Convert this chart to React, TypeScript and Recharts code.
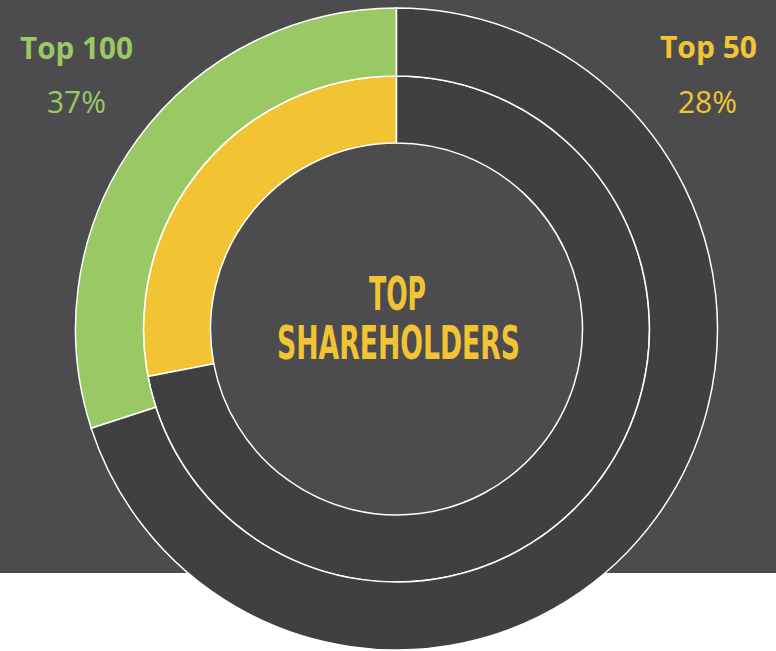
import { Cell, Pie, PieChart } from 'recharts';

// inner ring = Top 50, outer ring = Top 100
const sliceNames = ['Share', 'Rest'];
const top50Values = [28, 72];
const top100Values = [30, 70]; // drawn arc reads ~30% in the picture
const top50Colors = ['#F2C434', '#404040'];
const top100Colors = ['#9AC865', '#404040'];

const cornerTitles = ['Top 100', 'Top 50'];
const cornerValues = ['37%', '28%'];
const centerLines = ['TOP', 'SHAREHOLDERS'];

const toRows = (values: number[]) => values.map((value, i) => ({ name: sliceNames[i], value }));

const W = 776;
const H = 651;

const App = () => {
  return (
    <div style={{ position: 'absolute', left: 0, top: 0, width: W, height: H, background: '#fff' }}>
      <div style={{ position: 'absolute', left: 0, top: 0, width: W, height: 573, background: '#4C4C4E' }} />
      <div style={{ position: 'absolute', left: 0, top: 0 }}>
        <PieChart width={W} height={H} margin={{ top: 0, right: 0, bottom: 0, left: 0 }}>
          <Pie
            data={toRows(top50Values)}
            dataKey="value"
            cx={396.5}
            cy={329}
            innerRadius={186}
            outerRadius={253}
            startAngle={90}
            endAngle={450}
            stroke="#fff"
            strokeWidth={1.5}
            isAnimationActive={false}
          >
            {top50Values.map((_, i) => (
              <Cell key={i} fill={top50Colors[i]} />
            ))}
          </Pie>
          <Pie
            data={toRows(top100Values)}
            dataKey="value"
            cx={396.5}
            cy={329}
            innerRadius={253}
            outerRadius={321}
            startAngle={90}
            endAngle={450}
            stroke="#fff"
            strokeWidth={1.5}
            isAnimationActive={false}
          >
            {top100Values.map((_, i) => (
              <Cell key={i} fill={top100Colors[i]} />
            ))}
          </Pie>
        </PieChart>
      </div>
      <svg width={W} height={H} style={{ position: 'absolute', left: 0, top: 0, pointerEvents: 'none' }}>
        <g fontFamily="'Open Sans', 'DejaVu Sans', sans-serif" fontSize={31}>
          <text x={20} y={59} fill="#9AC865" fontWeight="bold" textLength={113} lengthAdjust="spacingAndGlyphs">
            {cornerTitles[0]}
          </text>
          <text x={47} y={113} fill="#9AC865" textLength={59} lengthAdjust="spacingAndGlyphs">
            {cornerValues[0]}
          </text>
          <text x={660} y={58} fill="#F2C434" fontWeight="bold" textLength={97} lengthAdjust="spacingAndGlyphs">
            {cornerTitles[1]}
          </text>
          <text x={678} y={113} fill="#F2C434" textLength={59} lengthAdjust="spacingAndGlyphs">
            {cornerValues[1]}
          </text>
        </g>
        <g fontFamily="'Liberation Sans Narrow', 'DejaVu Sans Condensed', sans-serif" fontWeight="bold" fontSize={47} fill="#F2C434">
          <text x={369} y={310} textLength={57} lengthAdjust="spacingAndGlyphs">
            {centerLines[0]}
          </text>
          <text x={277} y={359} textLength={243} lengthAdjust="spacingAndGlyphs">
            {centerLines[1]}
          </text>
        </g>
      </svg>
    </div>
  );
};

export default App;
